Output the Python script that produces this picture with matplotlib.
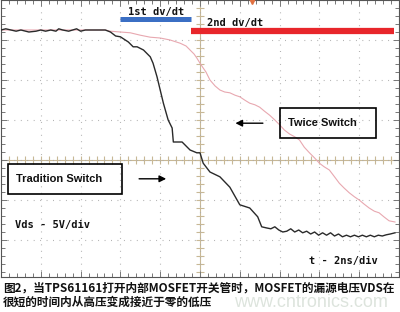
import numpy as np
import matplotlib.pyplot as plt
from matplotlib.patches import Rectangle

# scope screen, 10 x ~7 divisions (2 ns/div, 5 V/div); values in divisions
trad_t = [0.0, 0.12, 0.25, 0.38, 0.5, 0.62, 0.7, 0.88, 1.0, 1.12, 1.25, 1.38, 1.45,
          1.55, 1.7, 1.8, 1.9, 2.0, 2.12, 2.25, 2.38, 2.5, 2.62, 2.75, 2.88, 3.0,
          3.2, 3.32, 3.42, 3.58, 3.75, 3.82, 3.92, 4.0, 4.08, 4.2, 4.3, 4.33, 4.55,
          4.62, 4.75, 4.92, 5.0, 5.08, 5.25, 5.5, 5.75, 6.0, 6.25, 6.45, 6.55, 6.68,
          6.78, 6.88, 6.98, 7.08, 7.18, 7.28, 7.38, 7.48, 7.58, 7.68, 7.78, 7.88,
          7.98, 8.08, 8.18, 8.28, 8.38, 8.48, 8.58, 8.68, 8.78, 8.88, 8.98, 9.08,
          9.18, 9.28, 9.38, 9.48, 9.58, 9.68, 9.78, 9.9]
trad_v = [3.25, 3.28, 3.25, 3.22, 3.25, 3.22, 3.2, 3.22, 3.25, 3.22, 3.25, 3.22, 3.28,
          3.25, 3.22, 3.25, 3.28, 3.22, 3.25, 3.25, 3.25, 3.25, 3.25, 3.2, 3.1, 3.08,
          2.95, 2.83, 2.83, 2.75, 2.58, 2.42, 2.08, 1.75, 1.42, 1.0, 0.8, 0.45, 0.45,
          0.38, 0.25, 0.18, 0.18, -0.08, -0.3, -0.42, -0.68, -1.12, -1.2, -1.42,
          -1.67, -1.7, -1.72, -1.67, -1.75, -1.8, -1.78, -1.72, -1.8, -1.75, -1.82,
          -1.78, -1.85, -1.8, -1.88, -1.82, -1.88, -1.82, -1.9, -1.85, -1.92, -1.88,
          -1.92, -1.88, -1.92, -1.88, -1.92, -1.88, -1.92, -1.88, -1.9, -1.87, -1.85,
          -1.82]

twice_t = [0.0, 1.0, 2.0, 2.62, 2.75, 3.0, 3.25, 3.5, 3.75, 4.0, 4.25, 4.5, 4.65, 4.75,
           4.85, 4.92, 5.0, 5.08, 5.15, 5.25, 5.38, 5.5, 5.62, 5.75, 5.88, 6.0, 6.12,
           6.25, 6.38, 6.5, 6.62, 6.75, 6.88, 7.0, 7.12, 7.25, 7.38, 7.5, 7.62, 7.75,
           7.88, 8.0, 8.12, 8.25, 8.38, 8.5, 8.62, 8.75, 8.88, 9.0, 9.12, 9.25, 9.38,
           9.5, 9.62, 9.75, 9.9]
twice_v = [3.25, 3.25, 3.25, 3.25, 3.22, 3.2, 3.18, 3.12, 3.07, 3.05, 3.0, 2.92, 2.85,
           2.75, 2.65, 2.55, 2.42, 2.3, 2.2, 2.0, 1.85, 1.75, 1.7, 1.68, 1.62, 1.58,
           1.5, 1.42, 1.38, 1.32, 1.22, 1.12, 1.0, 0.88, 0.75, 0.65, 0.58, 0.5, 0.32,
           0.18, 0.05, -0.08, -0.17, -0.25, -0.42, -0.58, -0.7, -0.82, -0.92, -1.0,
           -1.1, -1.2, -1.28, -1.32, -1.42, -1.52, -1.55]

caption_1 = '图2，当TPS61161打开内部MOSFET开关管时，MOSFET的漏源电压VDS在'
caption_2 = '很短的时间内从高压变成接近于零的低压'

fig = plt.figure(figsize=(4, 3.12), dpi=100)
ax = fig.add_axes([0.0025, 1 - 277 / 312, 0.995, 277 / 312])
ax.set_xlim(0, 10)
ax.set_ylim(-2.925, 4.0)

# graticule
ax.set_xticks(np.arange(0, 11, 1))
ax.set_yticks(np.arange(-2, 5, 1))
ax.set_xticks(np.arange(0, 10.01, 0.2), minor=True)
ax.set_yticks(np.arange(-2.8, 4.01, 0.2), minor=True)
ax.tick_params(which='both', direction='in', top=True, right=True,
               labelbottom=False, labelleft=False, color='#777777', width=0.7)
ax.tick_params(which='major', length=4)
ax.tick_params(which='minor', length=3)
ax.grid(True, which='major', color='#aaaaaa', linewidth=0.8, linestyle=(0, (0.8, 5.0)))
for s in ax.spines.values():
    s.set_color('#555555')
    s.set_linewidth(0.8)

# centre cross with ticks
ax.axhline(0, color='#c8b896', lw=0.8, zorder=1)
ax.axvline(5, color='#c8b896', lw=0.8, zorder=1)
ax.vlines(np.arange(0, 10.01, 0.2), -0.1, 0.1, color='#c8b896', lw=0.8, zorder=1)
ax.hlines(np.arange(-2.8, 4.01, 0.2), 4.9, 5.1, color='#c8b896', lw=0.8, zorder=1)

# traces
ax.plot(twice_t, twice_v, color='#e8a8b0', lw=0.8, zorder=2)
ax.plot(trad_t, trad_v, color='#2a2a2a', lw=1.0, zorder=3)
ax.plot([6.3], [3.98], marker='v', color='#e07040', ms=4, clip_on=False, zorder=4)

# dv/dt bars
ax.plot([3.0, 4.78], [3.52, 3.52], color='#3b6fc4', lw=3.6, solid_capstyle='butt', zorder=4)
ax.plot([4.78, 9.88], [3.23, 3.23], color='#e8262b', lw=4.5, solid_capstyle='butt', zorder=4)
mono = dict(family='DejaVu Sans Mono', weight='bold', fontsize=7.5, color='#111111')
ax.text(3.2, 3.7, '1st dv/dt', va='center', ha='left', **mono)
ax.text(5.17, 3.42, '2nd dv/dt', va='center', ha='left', **mono)
ax.text(0.35, -1.62, 'Vds - 5V/div', va='center', ha='left', **mono)
ax.text(7.75, -2.52, 't - 2ns/div', va='center', ha='left', **mono)

# labels with boxes and arrows
sans = dict(family='Liberation Sans', weight='bold', fontsize=8, color='#111111')
ax.add_patch(Rectangle((7.02, 0.55), 2.4, 0.75, fill=False, ec='black', lw=1.2, zorder=5))
ax.text(7.2, 0.92, 'Twice Switch', va='center', ha='left', **sans)
ax.add_patch(Rectangle((0.18, -0.85), 2.85, 0.75, fill=False, ec='black', lw=1.2, zorder=5))
ax.text(0.38, -0.47, 'Tradition Switch', va='center', ha='left', **sans)
ax.annotate('', xy=(5.82, 0.92), xytext=(6.65, 0.92),
            arrowprops=dict(arrowstyle='-|>', color='black', lw=1.0, mutation_scale=10))
ax.annotate('', xy=(4.22, -0.47), xytext=(3.4, -0.47),
            arrowprops=dict(arrowstyle='-|>', color='black', lw=1.0, mutation_scale=10))

# caption and watermark
fig.text(0.585, 0.03, 'www.cntronics.com', family='Liberation Sans', fontsize=13,
         color='#dde4dd', va='center', ha='left', zorder=0)
cap = dict(family=['Noto Sans CJK SC', 'DejaVu Sans'], fontsize=8.4, color='#111111',
           weight='bold', va='center', ha='left')
fig.text(0.0075, 0.077, caption_1, **cap)
fig.text(0.0075, 0.032, caption_2, **cap)

fig.savefig('out.png', dpi=100)
